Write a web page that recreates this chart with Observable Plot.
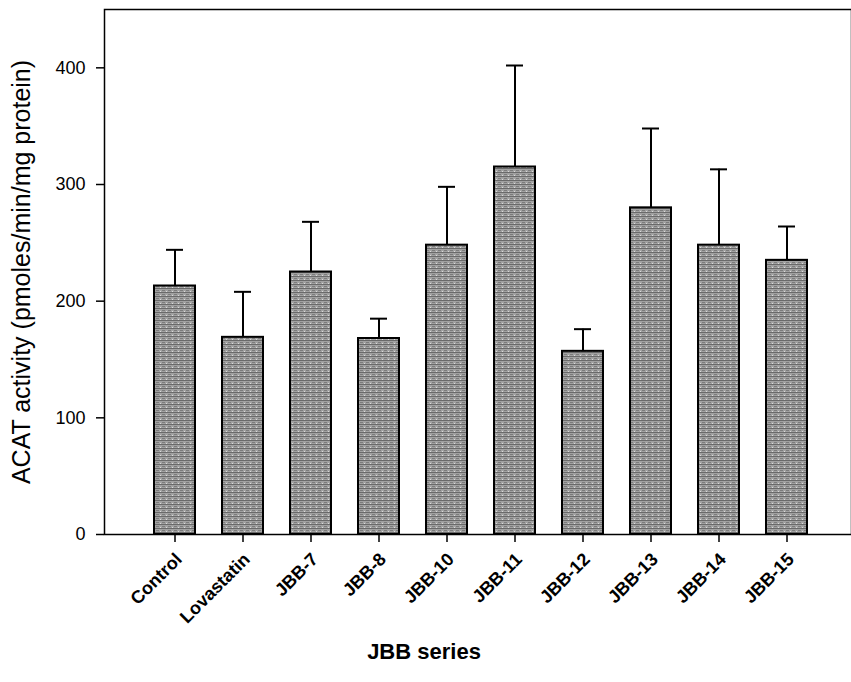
<!DOCTYPE html>
<html>
<head>
<meta charset="utf-8">
<script src="https://cdn.jsdelivr.net/npm/d3@7"></script>
<script src="https://cdn.jsdelivr.net/npm/@observablehq/plot@0.6"></script>
<style>
  html, body { margin: 0; padding: 0; background: #fff; }
  svg { font-family: "Liberation Sans", Arial, sans-serif; }
</style>
</head>
<body>
<div id="chart"></div>
<script>
const categories = ["Control", "Lovastatin", "JBB-7", "JBB-8", "JBB-10", "JBB-11", "JBB-12", "JBB-13", "JBB-14", "JBB-15"];
const means = [213, 169, 225, 168, 248, 315, 157, 280, 248, 235];
const errors = [31, 39, 43, 17, 50, 87, 19, 68, 65, 29];
const yTicks = [0, 100, 200, 300, 400];

const data = categories.map((c, i) => ({cat: c, mean: means[i], top: means[i] + errors[i]}));

const chart = Plot.plot({
  width: 851,
  height: 682,
  marginTop: 9,
  marginBottom: 148,
  marginLeft: 104,
  marginRight: 0,
  style: {fontFamily: "'Liberation Sans', Arial, sans-serif", background: "white", color: "black"},
  x: {domain: categories, range: [104, 856], paddingInner: 0.4, paddingOuter: 0.7, label: null},
  y: {domain: [0, 450], label: null},
  marks: [
    Plot.barY(data, {x: "cat", y: "mean", fill: "url(#tex)", stroke: "black", strokeWidth: 2}),
    Plot.ruleX(data, {x: "cat", y1: "mean", y2: "top", stroke: "black", strokeWidth: 2}),
    Plot.tickY(data, {x: "cat", y: "top", stroke: "black", strokeWidth: 2, insetLeft: 12, insetRight: 12}),
    Plot.frame({stroke: "black", strokeWidth: 1.5}),
    Plot.axisY({ticks: yTicks, tickSize: 8, tickFormat: () => "", label: null, strokeWidth: 1.5}),
    Plot.axisX({tickSize: 8, tickFormat: () => "", label: null, strokeWidth: 1.5}),
    Plot.text(yTicks, {y: d => d, frameAnchor: "left", dx: -19, textAnchor: "end", fontSize: 18}),
    Plot.text(categories, {x: d => d, frameAnchor: "bottom", dx: 8, dy: 26, rotate: -45, textAnchor: "end", fontSize: 18, fontWeight: "bold"}),
    Plot.text(["ACAT activity (pmoles/min/mg protein)"], {frameAnchor: "left", dx: -83, rotate: -90, fontSize: 25, textAnchor: "middle"}),
    Plot.text(["JBB series"], {frameAnchor: "bottom", dx: -54, dy: 124, fontSize: 22, fontWeight: "bold", textAnchor: "middle"})
  ]
});

const ns = "http://www.w3.org/2000/svg";
const defs = document.createElementNS(ns, "defs");
defs.innerHTML = `<pattern id="tex" patternUnits="userSpaceOnUse" width="6" height="4">
  <rect width="6" height="4" fill="#a2a2a2"/>
  <rect y="0" width="6" height="1" fill="#6a6a6a"/>
  <rect y="2" width="3" height="1" fill="#7c7c7c"/>
  <rect x="4" y="3" width="1" height="1" fill="#dcdcdc"/>
</pattern>`;
chart.insertBefore(defs, chart.firstChild);
chart.setAttribute("overflow", "hidden");
document.getElementById("chart").appendChild(chart);
</script>
</body>
</html>
